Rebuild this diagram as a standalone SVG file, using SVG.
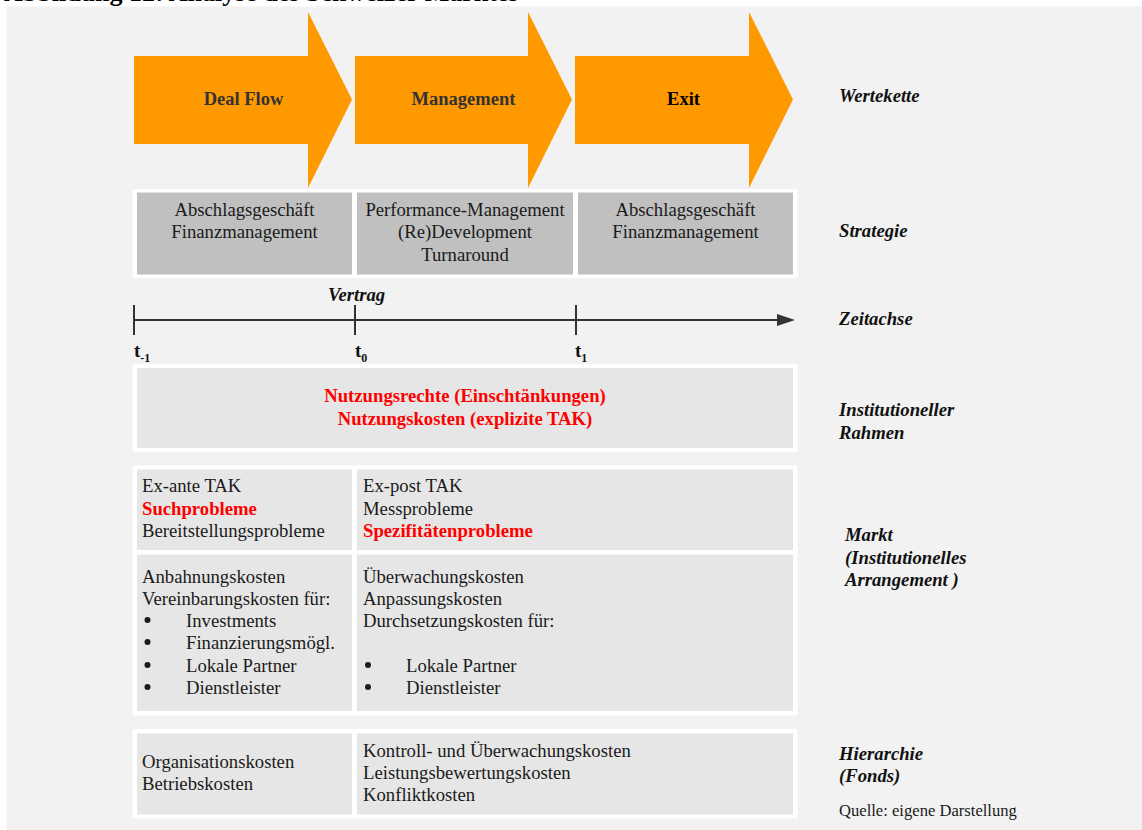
<svg xmlns="http://www.w3.org/2000/svg" width="1142" height="830" viewBox="0 0 1142 830">
<style>
  .bg { fill: #f2f2f2; }
  .panel { fill: #ffffff; }
  .gray { fill: #c0c0c0; }
  .light { fill: #e6e6e6; }
  .arrow { fill: #ff9900; }
  .dot { fill: #1a1a1a; }
  text { font-family: "Liberation Serif", "Times New Roman", serif; }
  .reg { font-size: 18.7px; fill: #1a1a1a; }
  .cen { text-anchor: middle; }
  .red { font-size: 18.7px; font-weight: bold; fill: #ff0000; }
  .ar { font-size: 18.5px; font-weight: bold; text-anchor: middle; }
  .lab { font-size: 18.7px; font-weight: bold; font-style: italic; fill: #111; }
  .tk { font-size: 19px; font-weight: bold; fill: #111; }
  .sub { font-size: 12px; font-weight: bold; fill: #111; }
  .axis { stroke: #333333; stroke-width: 2; fill: none; }
</style>
<defs>
  <marker id="ah" viewBox="0 0 18 12" refX="2" refY="6" markerWidth="18" markerHeight="12" markerUnits="userSpaceOnUse" orient="auto">
    <path d="M0,0 L18,6 L0,12 Z" fill="#333333"/>
  </marker>
</defs>

<rect width="1142" height="830" fill="#ffffff"/>
<text x="4" y="1" style="font-size:26px;font-weight:bold;fill:#000">Abbildung 12: Analyse des Schweizer Marktes</text>
<rect class="bg" x="6.5" y="6.5" width="1136" height="824"/>

<g id="wertekette">
  <g id="arrow-dealflow">
    <path class="arrow" d="M134,56 H308 V12 L352,99.5 L308,188 V144 H134 Z"/>
    <text class="ar" x="243.5" y="105" fill="#333333">Deal Flow</text>
  </g>
  <g id="arrow-management">
    <path class="arrow" d="M355,56 H528 V12 L572,99.5 L528,188 V144 H355 Z"/>
    <text class="ar" x="463.5" y="105" fill="#333333">Management</text>
  </g>
  <g id="arrow-exit">
    <path class="arrow" d="M575,56 H749 V12 L793,99.5 L749,188 V144 H575 Z"/>
    <text class="ar" x="683.5" y="105" fill="#000000">Exit</text>
  </g>
</g>

<g id="strategie">
  <rect class="panel" x="132.5" y="189" width="665" height="89" rx="2"/>
  <g id="strat-1">
    <rect class="gray" x="137" y="192.5" width="215" height="82"/>
    <text class="reg cen" x="244.5" y="216">Abschlagsgeschäft</text>
    <text class="reg cen" x="244.5" y="238">Finanzmanagement</text>
  </g>
  <g id="strat-2">
    <rect class="gray" x="357" y="192.5" width="216" height="82"/>
    <text class="reg cen" x="465" y="216">Performance-Management</text>
    <text class="reg cen" x="465" y="238">(Re)Development</text>
    <text class="reg cen" x="465" y="261">Turnaround</text>
  </g>
  <g id="strat-3">
    <rect class="gray" x="578" y="192.5" width="215" height="82"/>
    <text class="reg cen" x="685.5" y="216">Abschlagsgeschäft</text>
    <text class="reg cen" x="685.5" y="238">Finanzmanagement</text>
  </g>
</g>

<g id="connectors">
  <line class="axis" x1="134" y1="320" x2="779" y2="320" marker-end="url(#ah)"/>
  <line class="axis" x1="134" y1="305" x2="134" y2="335"/>
  <line class="axis" x1="355" y1="305" x2="355" y2="335"/>
  <line class="axis" x1="576" y1="305" x2="576" y2="335"/>
</g>
<g id="zeitachse-labels">
  <text class="lab" x="328" y="301">Vertrag</text>
  <text class="tk" x="134" y="357">t<tspan class="sub" dy="5">-1</tspan></text>
  <text class="tk" x="355" y="357">t<tspan class="sub" dy="5">0</tspan></text>
  <text class="tk" x="575" y="357">t<tspan class="sub" dy="5">1</tspan></text>
</g>

<g id="institutioneller-rahmen">
  <rect class="panel" x="132.5" y="364" width="665" height="88" rx="2"/>
  <rect class="light" x="137" y="368" width="656" height="80"/>
  <text class="red cen" x="465" y="402">Nutzungsrechte (Einschtänkungen)</text>
  <text class="red cen" x="465" y="425">Nutzungskosten (explizite TAK)</text>
</g>

<g id="markt">
  <rect class="panel" x="132.5" y="465.5" width="665" height="250" rx="2"/>
  <g id="markt-exante">
    <rect class="light" x="137" y="469.5" width="215" height="80.5"/>
    <text class="reg" x="142" y="492">Ex-ante TAK</text>
    <text class="red" x="142" y="515">Suchprobleme</text>
    <text class="reg" x="142" y="537">Bereitstellungsprobleme</text>
  </g>
  <g id="markt-expost">
    <rect class="light" x="357" y="469.5" width="436" height="80.5"/>
    <text class="reg" x="363" y="492">Ex-post TAK</text>
    <text class="reg" x="363" y="515">Messprobleme</text>
    <text class="red" x="363" y="537">Spezifitätenprobleme</text>
  </g>
  <g id="markt-kosten-ante">
    <rect class="light" x="137" y="554.5" width="215" height="156.5"/>
    <text class="reg" x="142" y="583">Anbahnungskosten</text>
    <text class="reg" x="142" y="605">Vereinbarungskosten für:</text>
    <circle class="dot" cx="147.5" cy="620" r="3"/><text class="reg" x="186" y="627">Investments</text>
    <circle class="dot" cx="147.5" cy="642" r="3"/><text class="reg" x="186" y="649">Finanzierungsmögl.</text>
    <circle class="dot" cx="147.5" cy="665" r="3"/><text class="reg" x="186" y="672">Lokale Partner</text>
    <circle class="dot" cx="147.5" cy="687" r="3"/><text class="reg" x="186" y="694">Dienstleister</text>
  </g>
  <g id="markt-kosten-post">
    <rect class="light" x="357" y="554.5" width="436" height="156.5"/>
    <text class="reg" x="363" y="583">Überwachungskosten</text>
    <text class="reg" x="363" y="605">Anpassungskosten</text>
    <text class="reg" x="363" y="627">Durchsetzungskosten für:</text>
    <circle class="dot" cx="368" cy="665" r="3"/><text class="reg" x="406" y="672">Lokale Partner</text>
    <circle class="dot" cx="368" cy="687" r="3"/><text class="reg" x="406" y="694">Dienstleister</text>
  </g>
</g>

<g id="hierarchie">
  <rect class="panel" x="132.5" y="729" width="665" height="89.5" rx="2"/>
  <g id="hier-links">
    <rect class="light" x="137" y="733.5" width="215" height="81"/>
    <text class="reg" x="142" y="768">Organisationskosten</text>
    <text class="reg" x="142" y="790">Betriebskosten</text>
  </g>
  <g id="hier-rechts">
    <rect class="light" x="357" y="733.5" width="436" height="81"/>
    <text class="reg" x="363" y="757">Kontroll- und Überwachungskosten</text>
    <text class="reg" x="363" y="779">Leistungsbewertungskosten</text>
    <text class="reg" x="363" y="801">Konfliktkosten</text>
  </g>
</g>

<g id="ebenen-labels">
  <text class="lab" x="839" y="102">Wertekette</text>
  <text class="lab" x="839" y="237">Strategie</text>
  <text class="lab" x="839" y="325">Zeitachse</text>
  <text class="lab" x="839" y="416">Institutioneller</text>
  <text class="lab" x="839" y="439">Rahmen</text>
  <text class="lab" x="845" y="541">Markt</text>
  <text class="lab" x="845" y="564">(Institutionelles</text>
  <text class="lab" x="845" y="586">Arrangement )</text>
  <text class="lab" x="839" y="760">Hierarchie</text>
  <text class="lab" x="839" y="782">(Fonds)</text>
  <text x="839" y="816" style="font-size:16.6px;fill:#1a1a1a">Quelle: eigene Darstellung</text>
</g>
</svg>
